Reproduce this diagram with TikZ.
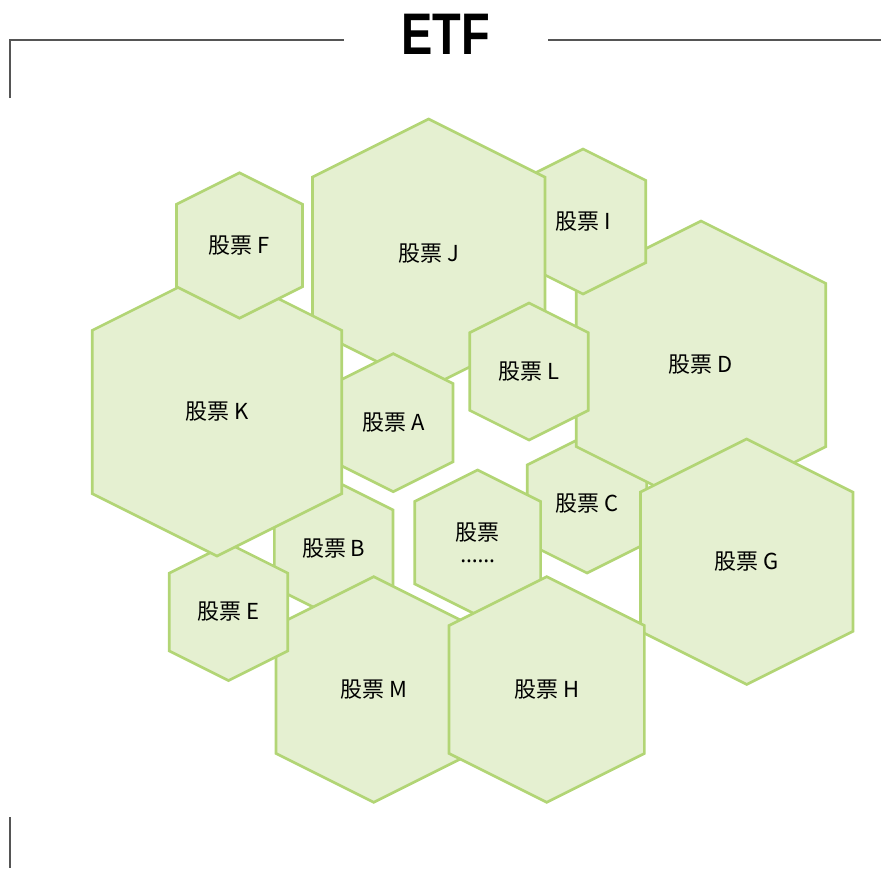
\documentclass[tikz,border=0pt]{standalone}
\usepackage{fontspec}
\usepackage{graphicx}
\setmainfont{Noto Sans CJK SC}
\newfontfamily\latinf{Noto Sans}
\newfontfamily\titlef{Liberation Sans}
\definecolor{hexfill}{HTML}{E5F0D1}
\definecolor{hexline}{HTML}{B2D575}
\definecolor{frameline}{HTML}{555555}
\tikzset{
  hexbox/.style={draw=hexline, fill=hexfill, line width=2pt, line join=miter},
  hexlabel/.style={inner sep=0pt, font=\fontsize{16.5}{19}\selectfont, text=black, align=center},
  framestroke/.style={draw=frameline, line width=0.9pt},
}
\newcommand\hexa[5]{%
  \pgfmathsetmacro\hxw{0.866*#4}%
  \pgfmathsetmacro\hxt{0.567*#4}%
  \draw[hexbox] (#2,#3-#4) -- (#2+\hxw,#3-\hxt) -- (#2+\hxw,#3+\hxt) -- (#2,#3+#4)
     -- (#2-\hxw,#3+\hxt) -- (#2-\hxw,#3-\hxt) -- cycle;
  \node[hexlabel] (#1) at (#2,#3) {#5};
}
\begin{document}
\begin{tikzpicture}[x=0.75pt, y=-0.75pt]
\useasboundingbox (0,0) rectangle (881,868);
% frame lines
\draw[framestroke] (10,98) -- (10,40) -- (344,40);
\draw[framestroke] (548,40) -- (881,40);
\draw[framestroke] (10,817) -- (10,868);
\node[inner sep=0pt] (title) at (446,34) {\scalebox{0.8}[1]{\titlef\bfseries\fontsize{44}{44}\selectfont ETF}};
% hexagons, back to front
\hexa{hexC}{587}{504}{69}{股票 C}
\hexa{hexD}{701}{365}{144}{股票 D}
\hexa{hexI}{583}{221.5}{72.5}{股票 I}
\hexa{hexJ}{428.7}{253.2}{134.2}{股票 J}
\hexa{hexA}{393.3}{422.7}{69}{股票 A}
\hexa{hexB}{333.7}{548.8}{68.5}{股票 B}
\hexa{hexX}{477.7}{542.7}{72.7}{股票\\[-3pt]{\latinf ……}}
\hexa{hexM}{373.7}{689.5}{112.8}{股票 M}
\hexa{hexE}{228.5}{612}{68.5}{股票 E}
\hexa{hexK}{217}{412}{144}{股票 K}
\hexa{hexF}{239.5}{245.5}{72.7}{股票 F}
\hexa{hexL}{529}{371.5}{68.5}{股票 L}
\hexa{hexG}{746.7}{561.7}{122.7}{股票 G}
\hexa{hexH}{546.7}{689.5}{112.8}{股票 H}
\end{tikzpicture}
\end{document}
